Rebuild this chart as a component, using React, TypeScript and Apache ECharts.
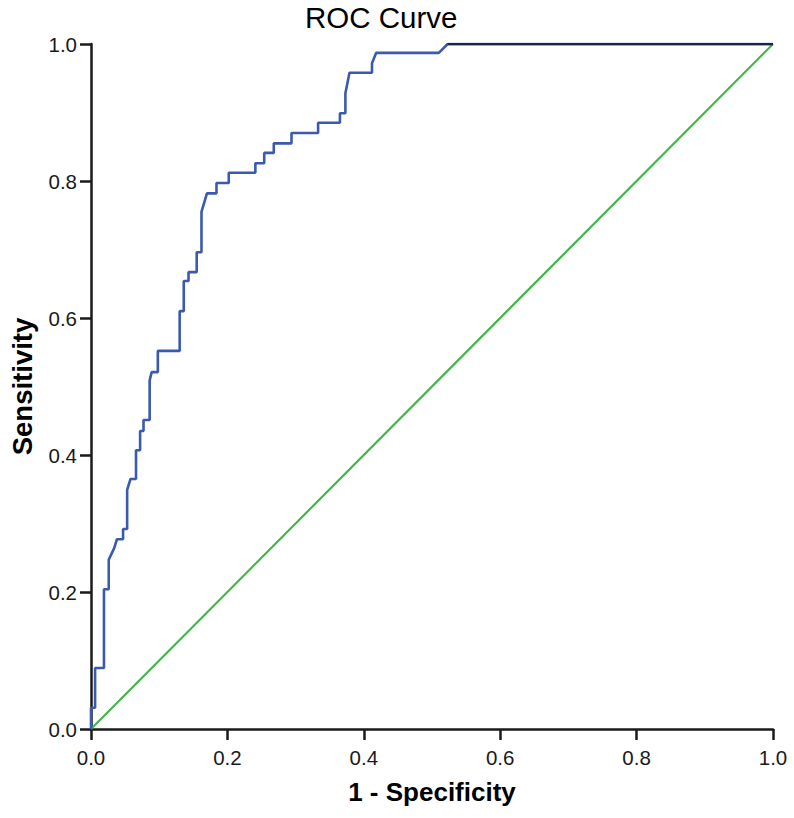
import React, { useEffect, useRef } from "react";
import * as echarts from "echarts";

const fpr = [
  0, 0, 0.006, 0.006, 0.019, 0.019, 0.026, 0.026, 0.034, 0.038, 0.047, 0.047,
  0.053, 0.053, 0.058, 0.066, 0.066, 0.072, 0.072, 0.077, 0.077, 0.086, 0.086,
  0.089, 0.098, 0.098, 0.13, 0.13, 0.136, 0.136, 0.143, 0.143, 0.155, 0.155,
  0.162, 0.162, 0.17, 0.184, 0.184, 0.202, 0.202, 0.241, 0.241, 0.254, 0.254,
  0.268, 0.268, 0.294, 0.294, 0.333, 0.333, 0.365, 0.365, 0.373, 0.373, 0.379,
  0.412, 0.412, 0.418, 0.51, 0.523, 1,
];
const tpr = [
  0, 0.031, 0.031, 0.089, 0.089, 0.204, 0.204, 0.247, 0.264, 0.277, 0.277, 0.292,
  0.292, 0.349, 0.365, 0.365, 0.407, 0.407, 0.435, 0.435, 0.451, 0.451, 0.509,
  0.521, 0.521, 0.552, 0.552, 0.61, 0.61, 0.654, 0.654, 0.667, 0.667, 0.696,
  0.696, 0.755, 0.782, 0.782, 0.797, 0.797, 0.812, 0.812, 0.826, 0.826, 0.841,
  0.841, 0.855, 0.855, 0.87, 0.87, 0.885, 0.885, 0.899, 0.899, 0.928, 0.958,
  0.958, 0.972, 0.987, 0.987, 1, 1,
];
const refX = [0, 1];
const refY = [0, 1];
const ticks = [0, 0.2, 0.4, 0.6, 0.8, 1.0];

const FONT = "'Liberation Sans', Arial, sans-serif";

export default function App() {
  const ref = useRef<HTMLDivElement>(null);
  useEffect(() => {
    document.body.style.margin = "0";
    const chart = echarts.init(ref.current!, null, { renderer: "svg" });
    const roc = fpr.map((x, i) => [x, tpr[i]]);
    const topSeg = roc.slice(roc.length - 2);
    const axisCommon = {
      type: "value" as const,
      min: ticks[0],
      max: ticks[ticks.length - 1],
      interval: 0.2,
      splitLine: { show: false },
      axisLine: { show: true, onZero: false, lineStyle: { color: "#1a1a1a", width: 2.5 } },
      axisTick: { show: true, inside: false, length: 11, lineStyle: { color: "#1a1a1a", width: 2.5 } },
      axisLabel: {
        color: "#1a1a1a",
        fontSize: 20.5,
        fontFamily: FONT,
        formatter: (v: number) => v.toFixed(1),
      },
      nameLocation: "middle" as const,
      nameTextStyle: { color: "#000", fontSize: 26, fontWeight: "bold" as const, fontFamily: FONT },
    };
    chart.setOption({
      animation: false,
      backgroundColor: "#fff",
      title: {
        text: "ROC Curve",
        left: 305,
        top: 2,
        padding: 0,
        textStyle: { fontSize: 29.5, fontWeight: "normal", color: "#000", fontFamily: FONT },
      },
      grid: { left: 89, right: 21, top: 44, bottom: 89 },
      xAxis: {
        ...axisCommon,
        name: "1 - Specificity",
        nameGap: 50,
        axisLabel: { ...axisCommon.axisLabel, margin: 18 },
      },
      yAxis: {
        ...axisCommon,
        name: "Sensitivity",
        nameGap: 55,
        nameTextStyle: { ...axisCommon.nameTextStyle, fontSize: 27.5 },
        axisLabel: { ...axisCommon.axisLabel, margin: 14 },
      },
      series: [
        {
          type: "line",
          data: refX.map((x, i) => [x, refY[i]]),
          showSymbol: false,
          lineStyle: { color: "#42b649", width: 2.2 },
          z: 2,
        },
        {
          type: "line",
          data: roc,
          showSymbol: false,
          lineStyle: { color: "#3a5ab0", width: 2.6 },
          z: 3,
        },
        {
          type: "line",
          data: topSeg,
          showSymbol: false,
          lineStyle: { color: "#1c2444", width: 2.6 },
          z: 4,
        },
      ],
    });
    return () => chart.dispose();
  }, []);
  return <div ref={ref} style={{ width: 794, height: 818 }} />;
}
